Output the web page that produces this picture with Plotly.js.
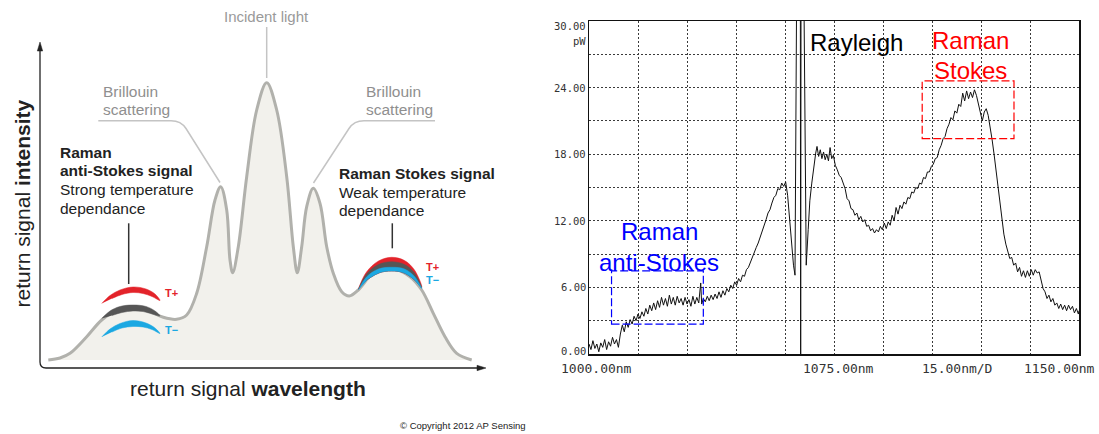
<!DOCTYPE html>
<html>
<head>
<meta charset="utf-8">
<script src="https://cdn.plot.ly/plotly-3.0.1.min.js"></script>
<style>
html,body{margin:0;padding:0;background:#fff;}
#chart{width:1099px;height:434px;}
</style>
</head>
<body>
<div id="chart"></div>
<script>
// ---------- LEFT: schematic scattering spectrum (schematic units) ----------
const schemX = [13.3,25,35,51.7,66.7,81.7,98.3,115,128.3,141.7,151.7,161.7,171.7,180,185.7,191.7,195,197.7,203.3,211.7,221.7,231.7,241.7,251.7,258.3,262.3,266.7,271.7,278.3,285,291.7,298.3,306.7,314.3,323.3,338.3,356.7,375,386.7,398.3,410,421.7,436.7];
const schemY = [0,2,6.7,23.3,40,50,53.5,48.3,42.7,40.7,45,66.7,113.3,160,173.3,150,100,87.3,113.3,183.3,250,277.3,250,183.3,113.3,87.3,113.3,153.3,171.7,156.7,113.3,86.7,68.3,64,70,86.7,91.5,83.3,70,46.7,23.3,6.7,0];

// anti-Stokes crescents (top edge left->right, lower edge right->left)
const asArcTopX = [66.7,75,85,98,111,120,125];
const asArcBotX = [117,108,98,87,77];
const asRedTopY = [56.5,64.5,70,73,71,66,59.5];
const asRedBotY = [63.5,66.5,67.5,65.5,61.5];
const asGrayTopY = [41.5,49,53.5,55,53.5,49,44];
const asGrayBotY = [46,48.5,49,47.5,44.5];
const asBlueTopY = [23,31,36.5,39.5,37,32,26.5];
const asBlueBotY = [30.5,33,33.5,32,28];

// Stokes crescents (stacked)
const stArcTopX = [323.3,331.5,343.5,356.7,369.5,379.5,386.7];
const stArcBotX = [379,368,356.7,345,333];
const stInnerY = [80.5,87.5,89,87.5,81];
const stRedTopY = [71,88,99,102.7,99.5,90,73];
const stGrayTopY = [70.5,86,95.5,98.3,95.5,87,72];
const stBlueTopY = [70,83,91,92.7,91,83.5,71.5];

// ---------- RIGHT: measured spectrum ----------
const wavelengthNm = [
1000.0,1000.6,1001.2,1001.8,1002.4,1003.0,1003.6,1004.2,1004.8,1005.4,1006.0,1006.6,1007.2,1007.8,1008.4,1009.0,1009.6,1010.2,1010.8,1011.4,
1012.0,1012.6,1013.2,1013.8,1014.4,1015.0,1015.6,1016.2,1016.8,1017.4,1018.0,1018.6,1019.2,1019.8,1020.4,1021.0,1021.6,1022.2,1022.8,1023.4,
1024.0,1024.6,1025.2,1025.8,1026.4,1027.0,1027.6,1028.2,1028.8,1029.4,1030.0,1030.6,1031.2,1031.8,1032.4,1033.0,1033.6,1034.2,1034.5,1035.0,
1035.6,1036.2,1036.8,1037.4,1038.0,1038.6,1039.2,1039.8,1040.4,1041.0,1041.6,1042.2,1042.8,1043.4,1044.0,1044.6,1045.2,1045.8,1046.4,1047.0,
1047.6,1048.2,1048.8,1049.4,1050.0,1050.6,1051.2,1051.8,1052.4,1053.0,1053.6,1054.2,1054.8,1055.4,1056.0,1056.6,1057.2,1057.8,1058.4,1059.0,
1059.6,1060.2,1060.8,1061.4,1062.0,1062.6,1063.06,
1063.55,1064.7,1064.8,1064.9,1065.8,1066.5,
1067.1,1067.6,1068.2,1068.8,1069.4,1069.8,1070.3,1070.8,1071.3,1071.8,1072.3,1072.8,1073.3,1073.8,1074.3,1074.8,1075.4,1076.0,1076.6,1077.2,
1077.8,1078.4,1079.0,1079.6,1080.2,1080.8,1081.4,1082.0,1082.6,1083.2,1083.8,1084.4,1085.0,1085.6,1086.2,1086.8,1087.4,1088.0,1088.6,1089.2,
1089.8,1090.4,1091.0,1091.6,1092.2,1092.8,1093.4,1094.0,1094.6,1095.2,1095.8,1096.4,1097.0,1097.6,1098.2,1098.8,1099.4,1100.0,1100.6,1101.2,
1101.8,1102.4,1103.0,1103.6,1104.2,1104.8,1105.4,1106.0,1106.6,1107.2,1107.8,1108.4,1109.0,1109.6,1110.2,1110.8,1111.4,1112.0,1112.6,1113.2,
1113.8,1114.4,1115.0,1115.6,1116.2,1116.8,1117.4,1118.0,1118.6,1119.2,1119.8,1120.4,1121.0,1121.6,1122.2,1122.8,1123.4,1124.0,1124.6,1125.2,
1125.8,1126.4,1127.0,1127.6,1128.2,1128.8,1129.4,1130.0,1130.6,1131.2,1131.8,1132.4,1133.0,1133.6,1134.2,1134.8,1135.4,1136.0,1136.6,1137.2,
1137.8,1138.4,1139.0,1139.6,1140.2,1140.8,1141.4,1142.0,1142.6,1143.2,1143.8,1144.4,1145.0,1145.6,1146.2,1146.8,1147.4,1148.0,1148.6,1149.2,
1149.8,1150.0];
const powerPw = [
0.9,0.4,1.2,0.5,0.9,0.2,1.0,0.6,1.3,0.4,1.1,0.7,1.5,0.9,1.3,0.6,1.8,2.6,2.0,2.9,
2.4,3.1,2.7,3.4,3.0,3.6,3.2,3.8,3.4,4.1,3.6,4.4,3.9,4.6,4.0,4.8,4.2,5.1,4.4,5.0,
4.3,5.3,4.5,5.1,4.4,5.2,4.6,5.0,4.4,5.1,4.5,4.9,4.3,5.2,4.5,5.1,4.6,6.4,4.5,5.0,
4.7,5.2,4.8,5.3,4.9,5.4,5.0,5.6,5.1,5.7,5.3,5.9,5.6,6.2,5.9,6.5,6.2,6.8,6.5,7.1,
7.0,7.6,7.8,8.3,8.6,9.2,9.6,10.0,10.5,10.9,11.6,12.1,12.7,13.0,13.6,14.1,14.3,14.9,14.8,15.4,
15.1,15.5,14.3,12.0,9.8,8.0,7.1,
32,32,0,32,32,8.0,
11.2,13.8,15.4,17.0,18.1,18.7,17.8,18.4,17.6,18.2,17.5,18.0,17.4,18.6,17.6,17.9,17.0,16.6,16.1,15.9,
15.4,14.9,14.0,13.8,13.1,13.0,12.5,12.7,12.1,12.4,11.9,12.1,11.5,11.6,11.1,11.3,10.9,11.2,11.0,11.5,
11.2,11.8,11.3,11.9,11.6,12.5,12.0,13.2,12.6,13.4,13.1,13.7,13.5,14.1,14.0,14.6,14.5,15.0,14.9,15.4,
15.3,15.9,15.8,16.4,16.4,16.9,17.1,17.6,17.7,18.4,18.8,19.4,19.6,20.3,20.7,21.3,21.1,21.9,21.7,22.5,
22.3,23.5,22.8,23.7,23.0,23.6,23.1,23.8,23.3,22.6,21.9,21.0,21.8,22.1,21.5,20.5,19.3,18.0,16.6,15.2,
13.8,12.0,10.8,9.9,9.3,8.6,8.7,8.0,8.2,7.4,7.8,7.0,7.5,6.9,7.5,7.0,7.6,7.1,7.6,7.3,
7.4,6.6,5.9,5.6,5.0,5.3,4.7,5.0,4.4,4.6,4.1,4.5,4.0,4.4,3.9,4.4,4.0,4.3,3.7,4.1,
3.6,3.9];

const yTickValues = [30,24,18,12,6,0];
const yTickLabels = ['30.00','24.00','18.00','12.00','6.00','0.00'];
const xLabelTexts = ['1000.00nm','1075.00nm','15.00nm/D','1150.00nm'];

// ---------- traces ----------
function crescent(topX, topY, botX, botY, color){
  return {x: topX.concat(botX), y: topY.concat(botY), xaxis:'x2', yaxis:'y2',
    type:'scatter', mode:'lines', fill:'toself', fillcolor:color,
    line:{color:color, width:0.5, shape:'spline', smoothing:1}, hoverinfo:'skip'};
}
const RED='#e3232a', DARK='#565656', BLUE='#1ba8e2';
const traces = [
  {x: schemX, y: schemY, xaxis:'x2', yaxis:'y2', type:'scatter', mode:'lines',
   fill:'tozeroy', fillcolor:'#f2f1ec', line:{color:'#b1b1ac', width:3, shape:'spline', smoothing:1}, hoverinfo:'skip'},
  crescent(asArcTopX, asRedTopY, asArcBotX, asRedBotY, RED),
  crescent(asArcTopX, asGrayTopY, asArcBotX, asGrayBotY, DARK),
  crescent(asArcTopX, asBlueTopY, asArcBotX, asBlueBotY, BLUE),
  crescent(stArcTopX, stRedTopY, stArcBotX, stInnerY, RED),
  crescent(stArcTopX, stGrayTopY, stArcBotX, stInnerY, DARK),
  crescent(stArcTopX, stBlueTopY, stArcBotX, stInnerY, BLUE),
  {x: wavelengthNm, y: powerPw, xaxis:'x', yaxis:'y', type:'scatter', mode:'lines',
   line:{color:'#111', width:1}, hoverinfo:'skip'}
];

// ---------- layout ----------
const SANS = 'Liberation Sans, Arial, sans-serif';
const MONO = 'DejaVu Sans Mono, Liberation Mono, monospace';
const W = 1099, H = 434;
const px = v => v / W, py = v => (H - v) / H;

const ann = [];
function t2(x, y, text, size, color, extra){
  ann.push(Object.assign({xref:'x2', yref:'y2', x:x, y:y, text:text, showarrow:false,
    xanchor:'center', yanchor:'middle',
    font:{family:SANS, size:size, color:color}}, extra||{}));
}
function tpaper(x, y, text, font, extra){
  ann.push(Object.assign({xref:'paper', yref:'paper', x:px(x), y:py(y), text:text, showarrow:false,
    xanchor:'center', yanchor:'middle', font:font}, extra||{}));
}
// left panel text
t2(231, 344, 'Incident light', 15, '#9a9a9a');
t2(66, 269, 'Brillouin', 15.5, '#8f8f8f', {xanchor:'left'});
t2(66, 250.5, 'scattering', 15.5, '#8f8f8f', {xanchor:'left'});
t2(329.3, 269, 'Brillouin', 15.5, '#8f8f8f', {xanchor:'left'});
t2(329.3, 250.5, 'scattering', 15.5, '#8f8f8f', {xanchor:'left'});
t2(23.3, 208, '<b>Raman</b>', 15.5, '#222', {xanchor:'left'});
t2(23.3, 189.3, '<b>anti-Stokes signal</b>', 15.5, '#222', {xanchor:'left'});
t2(23.3, 170.6, 'Strong temperature', 15.5, '#222', {xanchor:'left'});
t2(23.3, 151.9, 'dependance', 15.5, '#222', {xanchor:'left'});
t2(302.3, 186.7, '<b>Raman Stokes signal</b>', 15.5, '#222', {xanchor:'left'});
t2(302.3, 168, 'Weak temperature', 15.5, '#222', {xanchor:'left'});
t2(302.3, 149.3, 'dependance', 15.5, '#222', {xanchor:'left'});
t2(136, 67.5, '<b>T+</b>', 11, RED);
t2(136, 30, '<b>T\u2212</b>', 11, BLUE);
t2(397, 93.3, '<b>T+</b>', 11, RED);
t2(397, 80, '<b>T\u2212</b>', 11, BLUE);
t2(-13, 156.5, 'return signal <b>intensity</b>', 21, '#222', {textangle:-90});
tpaper(248, 388, 'return signal <b>wavelength</b>', {family:SANS, size:21, color:'#222'});
tpaper(463, 425, '\u00a9 Copyright 2012 AP Sensing', {family:SANS, size:9.5, color:'#222'});

// right panel labels
yTickValues.forEach((v, i) => {
  const shift = v === 30 ? -5 : (v === 0 ? 3 : 0);
  ann.push({xref:'paper', yref:'y', x:px(587.5), y:v, yshift:shift, xanchor:'right', yanchor:'middle',
    text:yTickLabels[i], showarrow:false, font:{family:MONO, size:10.5, color:'#333'}});
});
tpaper(587.5, 41.5, 'pW', {family:MONO, size:10.5, color:'#333'}, {xanchor:'right'});
const xLabelPx = [596, 838, 957, 1059];
xLabelTexts.forEach((s, i) => {
  tpaper(xLabelPx[i], 368, s, {family:MONO, size:13, color:'#333'});
});
const big = c => ({family:SANS, size:24, color:c});
tpaper(856.5, 43, 'Rayleigh', big('#000'));
tpaper(970.5, 41, 'Raman', big('#ff0000'));
tpaper(970.5, 70.5, 'Stokes', big('#ff0000'));
tpaper(659.2, 231, 'Raman', big('#0000ff'));
tpaper(659.3, 262, 'anti-Stokes', big('#0000ff'));

const shapes = [
  // left axes with rounded corner
  {type:'path', xref:'x2', yref:'y2', path:'M 5,311 L 5,-2 Q 5,-8 11,-8 L 444,-8', line:{color:'#222', width:1.3}},
  {type:'path', xref:'x2', yref:'y2', path:'M 5,318 L 2.3,309 L 7.7,309 Z', fillcolor:'#222', line:{color:'#222', width:0.5}},
  {type:'path', xref:'x2', yref:'y2', path:'M 451,-8 L 442,-10.7 L 442,-5.3 Z', fillcolor:'#222', line:{color:'#222', width:0.5}},
  // leader lines
  {type:'path', xref:'x2', yref:'y2', path:'M 231.7,333 L 231.7,282', line:{color:'#c4c4c4', width:1.5}},
  {type:'path', xref:'x2', yref:'y2', path:'M 63.3,239.3 L 136,239.3 Q 146,239.3 151,231.5 L 185,177.5', line:{color:'#c4c4c4', width:1.5}},
  {type:'path', xref:'x2', yref:'y2', path:'M 400,239.3 L 329,239.3 Q 319,239.3 314,231.5 L 278.5,177', line:{color:'#c4c4c4', width:1.5}},
  {type:'path', xref:'x2', yref:'y2', path:'M 93.7,136.7 L 93.7,76', line:{color:'#333', width:1.5}},
  {type:'path', xref:'x2', yref:'y2', path:'M 357.3,136.7 L 357.3,111.7', line:{color:'#333', width:1.5}},
  // right annotation boxes
  {type:'rect', xref:'x', yref:'y', x0:1102.0, x1:1130.1, y0:19.4, y1:24.6, line:{color:'#ff0000', width:1.2, dash:'8px,3px'}},
  {type:'rect', xref:'x', yref:'y', x0:1006.9, x1:1035.0, y0:2.7, y1:7.48, line:{color:'#0000ff', width:1.2, dash:'8px,3px'}}
];

const layout = {
  width: W, height: H, margin:{l:0, r:0, t:0, b:0},
  paper_bgcolor:'#fff', plot_bgcolor:'rgba(0,0,0,0)', showlegend:false,
  xaxis:{domain:[px(589), px(1079)], range:[1000,1150], tick0:1000, dtick:15, showgrid:true,
    gridcolor:'#3a3a3a', griddash:'2px,2px', gridwidth:1, showticklabels:false, ticks:'',
    zeroline:false, showline:true, mirror:true, linecolor:'#111', linewidth:1.5, fixedrange:true},
  yaxis:{domain:[py(354), py(21)], range:[0,30], tick0:0, dtick:3, showgrid:true,
    gridcolor:'#3a3a3a', griddash:'2px,2px', gridwidth:1, showticklabels:false, ticks:'',
    zeroline:false, showline:true, mirror:true, linecolor:'#111', linewidth:1.5, fixedrange:true},
  xaxis2:{domain:[0, px(490)], range:[-35,455], visible:false, anchor:'y2', fixedrange:true},
  yaxis2:{domain:[py(375), 1], range:[-15,360], visible:false, anchor:'x2', fixedrange:true},
  annotations: ann,
  shapes: shapes
};

Plotly.newPlot('chart', traces, layout, {staticPlot:true, displayModeBar:false});
</script>
</body>
</html>
